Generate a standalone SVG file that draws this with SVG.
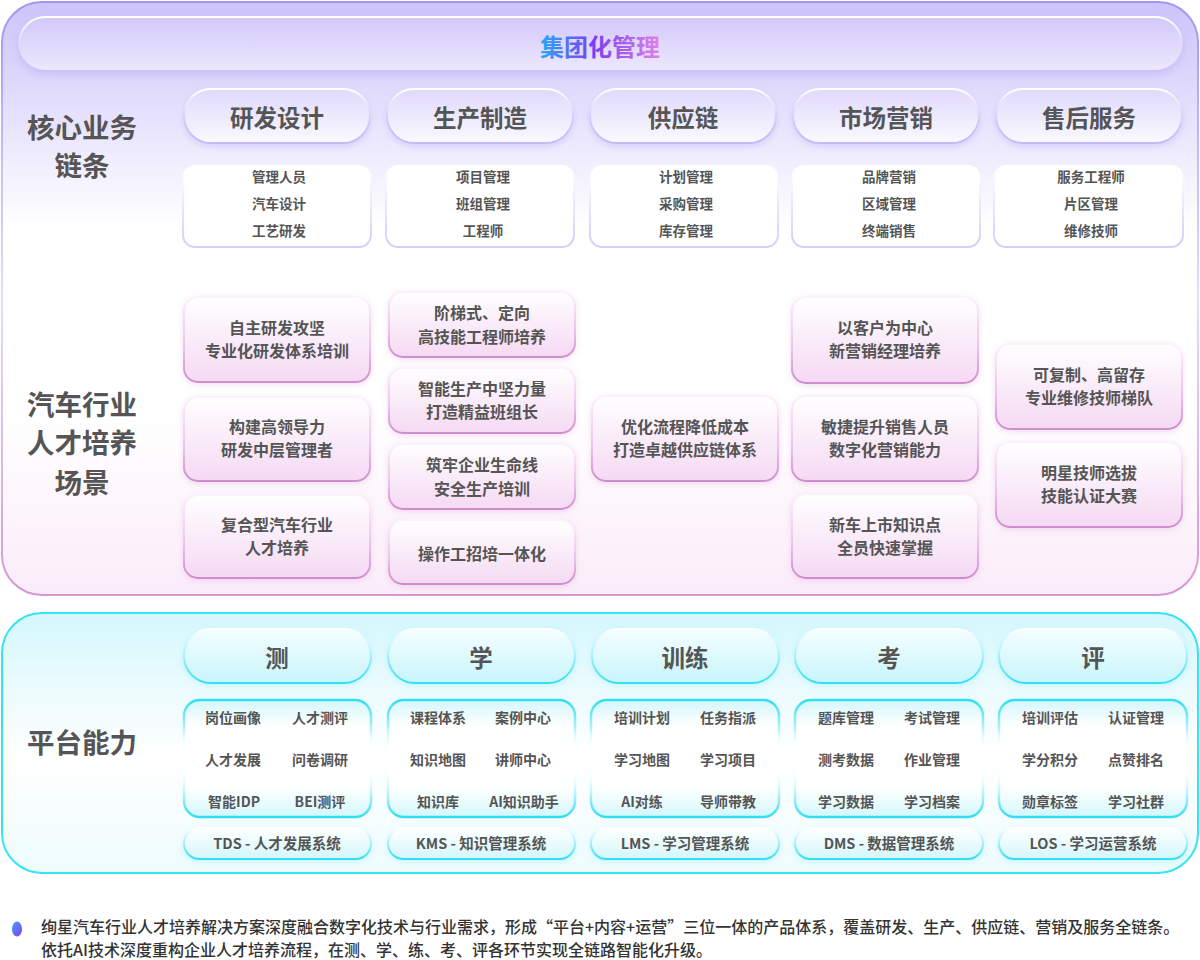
<svg xmlns="http://www.w3.org/2000/svg" width="1200" height="960" viewBox="0 0 1200 960">
<defs>
<linearGradient id="gTopFill" x1="0" y1="0" x2="0" y2="1">
<stop offset="0" stop-color="#cdc3fb"/><stop offset="0.38" stop-color="#ffffff"/><stop offset="0.7" stop-color="#ffffff"/><stop offset="1" stop-color="#fbecf9"/>
</linearGradient>
<linearGradient id="gTopStroke" x1="0" y1="0" x2="0" y2="1">
<stop offset="0" stop-color="#a396f0"/><stop offset="0.5" stop-color="#e4def8"/><stop offset="1" stop-color="#d796d6"/>
</linearGradient>
<linearGradient id="gHead" x1="0" y1="0" x2="0" y2="1">
<stop offset="0" stop-color="#d2c8fa"/><stop offset="1" stop-color="#ece8fd"/>
</linearGradient>
<linearGradient id="gHeadStroke" x1="0" y1="0" x2="0" y2="1">
<stop offset="0" stop-color="#ffffff"/><stop offset="0.5" stop-color="#ffffff" stop-opacity="0.2"/><stop offset="1" stop-color="#ffffff" stop-opacity="0"/>
</linearGradient>
<linearGradient id="gTitle" x1="0" y1="0" x2="1" y2="0">
<stop offset="0" stop-color="#28a8f8"/><stop offset="0.45" stop-color="#7a3ff2"/><stop offset="1" stop-color="#e083e6"/>
</linearGradient>
<linearGradient id="gPPill" x1="0" y1="0" x2="0" y2="1">
<stop offset="0" stop-color="#e0d9fc"/><stop offset="1" stop-color="#faf9ff"/>
</linearGradient>
<linearGradient id="gPPillStroke" x1="0" y1="0" x2="0" y2="1">
<stop offset="0" stop-color="#ffffff"/><stop offset="0.5" stop-color="#d8d0fa"/><stop offset="1" stop-color="#c4b9f6"/>
</linearGradient>
<linearGradient id="gSubStroke" x1="0" y1="0" x2="0" y2="1">
<stop offset="0" stop-color="#ffffff" stop-opacity="0"/><stop offset="0.4" stop-color="#efebfd"/><stop offset="1" stop-color="#d6cdf9"/>
</linearGradient>
<linearGradient id="gCard" x1="0" y1="0" x2="0" y2="1">
<stop offset="0" stop-color="#ffffff"/><stop offset="1" stop-color="#f5d9f3"/>
</linearGradient>
<linearGradient id="gCardStroke" x1="0" y1="0" x2="0" y2="1">
<stop offset="0" stop-color="#fcf2fb"/><stop offset="0.6" stop-color="#ebc3ea"/><stop offset="1" stop-color="#d08ccf"/>
</linearGradient>
<linearGradient id="gBotFill" x1="0" y1="0" x2="0" y2="1">
<stop offset="0" stop-color="#d4f7fd"/><stop offset="0.55" stop-color="#ffffff"/><stop offset="1" stop-color="#eefcfe"/>
</linearGradient>
<linearGradient id="gCPill" x1="0" y1="0" x2="0" y2="1">
<stop offset="0" stop-color="#f4feff"/><stop offset="1" stop-color="#c8f5fc"/>
</linearGradient>
<linearGradient id="gCPillStroke" x1="0" y1="0" x2="0" y2="1">
<stop offset="0" stop-color="#ffffff"/><stop offset="0.5" stop-color="#a5effa"/><stop offset="1" stop-color="#30dff2"/>
</linearGradient>
<linearGradient id="gItem" x1="0" y1="0" x2="0" y2="1">
<stop offset="0" stop-color="#d3f7fc"/><stop offset="0.22" stop-color="#ffffff"/><stop offset="0.75" stop-color="#ffffff"/><stop offset="1" stop-color="#d3f7fc"/>
</linearGradient>
<linearGradient id="gItemStroke" x1="0" y1="0" x2="0" y2="1">
<stop offset="0" stop-color="#2fdff2"/><stop offset="0.25" stop-color="#b8f3fb"/><stop offset="0.4" stop-color="#ffffff" stop-opacity="0.3"/><stop offset="0.6" stop-color="#ffffff" stop-opacity="0.3"/><stop offset="0.8" stop-color="#b8f3fb"/><stop offset="1" stop-color="#2fdff2"/>
</linearGradient>
<linearGradient id="gSys" x1="0" y1="0" x2="0" y2="1">
<stop offset="0" stop-color="#ffffff"/><stop offset="1" stop-color="#d3f7fc"/>
</linearGradient>
<linearGradient id="gBullet" x1="0" y1="0" x2="1" y2="1">
<stop offset="0" stop-color="#3aa0f8"/><stop offset="1" stop-color="#8a3ff0"/>
</linearGradient>
<filter id="shP" x="-10%" y="-30%" width="120%" height="170%">
<feDropShadow dx="0" dy="3" stdDeviation="3" flood-color="#b3a6f3" flood-opacity="0.35"/>
</filter>
<filter id="shH" x="-5%" y="-30%" width="110%" height="180%">
<feDropShadow dx="0" dy="4" stdDeviation="5" flood-color="#a999f2" flood-opacity="0.45"/>
</filter>
<filter id="shK" x="-10%" y="-20%" width="120%" height="150%">
<feDropShadow dx="0" dy="2" stdDeviation="3" flood-color="#d9a6d8" flood-opacity="0.35"/>
</filter>
<filter id="shC" x="-10%" y="-30%" width="120%" height="170%">
<feDropShadow dx="0" dy="2" stdDeviation="3" flood-color="#6ee7f5" flood-opacity="0.3"/>
</filter>
<style>
text{font-family:"Noto Sans CJK SC","Noto Sans",sans-serif;fill:#555;text-anchor:middle;font-weight:700}
.lab{font-size:27.5px}
.pill{font-size:23.5px}
.sub{font-size:13.5px}
.card{font-size:16px}
.itm{font-size:14px}
.sys{font-size:14.5px}
.foot{font-size:16px;text-anchor:start;fill:#333;font-weight:500}
.pp{fill:url(#gPPill);stroke:url(#gPPillStroke);stroke-width:2;filter:url(#shP)}
.sb{fill:#ffffff;stroke:url(#gSubStroke);stroke-width:2}
.cd{fill:url(#gCard);stroke:url(#gCardStroke);stroke-width:2;filter:url(#shK)}
.cp{fill:url(#gCPill);stroke:url(#gCPillStroke);stroke-width:2;filter:url(#shC)}
.it{fill:url(#gItem);stroke:url(#gItemStroke);stroke-width:2.5}
.sy{fill:url(#gSys);stroke:url(#gCPillStroke);stroke-width:2;filter:url(#shC)}
</style>
</defs>
<rect width="1200" height="960" fill="#ffffff"/>

<!-- top panel -->
<g id="panel-top">
<rect x="2" y="2" width="1196" height="593" rx="40" fill="url(#gTopFill)" stroke="url(#gTopStroke)" stroke-width="2"/>
</g>
<g id="header">
<rect x="19" y="17" width="1163" height="53" rx="26.5" fill="url(#gHead)" stroke="url(#gHeadStroke)" stroke-width="2" filter="url(#shH)"/>
<text x="600" y="56" font-size="24" style="fill:url(#gTitle)">集团化管理</text>
</g>

<g id="label-core">
<text class="lab" x="82" y="138">核心业务</text>
<text class="lab" x="82" y="176">链条</text>
</g>

<g id="col-rd">
<rect class="pp" x="184" y="89" width="186" height="54" rx="27"/>
<text class="pill" x="277" y="127">研发设计</text>
<rect class="sb" x="183" y="165" width="188" height="82" rx="12"/>
<text class="sub" x="279" y="182">管理人员</text>
<text class="sub" x="279" y="209">汽车设计</text>
<text class="sub" x="279" y="236">工艺研发</text>
</g>
<g id="col-prod">
<rect class="pp" x="387" y="89" width="186" height="54" rx="27"/>
<text class="pill" x="480" y="127">生产制造</text>
<rect class="sb" x="386" y="165" width="188" height="82" rx="12"/>
<text class="sub" x="483" y="182">项目管理</text>
<text class="sub" x="483" y="209">班组管理</text>
<text class="sub" x="483" y="236">工程师</text>
</g>
<g id="col-supply">
<rect class="pp" x="590" y="89" width="186" height="54" rx="27"/>
<text class="pill" x="683" y="127">供应链</text>
<rect class="sb" x="590" y="165" width="188" height="82" rx="12"/>
<text class="sub" x="686" y="182">计划管理</text>
<text class="sub" x="686" y="209">采购管理</text>
<text class="sub" x="686" y="236">库存管理</text>
</g>
<g id="col-market">
<rect class="pp" x="793" y="89" width="186" height="54" rx="27"/>
<text class="pill" x="886" y="127">市场营销</text>
<rect class="sb" x="792" y="165" width="188" height="82" rx="12"/>
<text class="sub" x="889" y="182">品牌营销</text>
<text class="sub" x="889" y="209">区域管理</text>
<text class="sub" x="889" y="236">终端销售</text>
</g>
<g id="col-service">
<rect class="pp" x="996" y="89" width="186" height="54" rx="27"/>
<text class="pill" x="1089" y="127">售后服务</text>
<rect class="sb" x="994" y="165" width="189" height="82" rx="12"/>
<text class="sub" x="1091" y="182">服务工程师</text>
<text class="sub" x="1091" y="209">片区管理</text>
<text class="sub" x="1091" y="236">维修技师</text>
</g>

<g id="label-scene">
<text class="lab" x="82" y="415">汽车行业</text>
<text class="lab" x="82" y="453">人才培养</text>
<text class="lab" x="82" y="493">场景</text>
</g>

<g id="scene-rd">
<rect class="cd" x="184" y="297" width="186" height="85" rx="14"/>
<text class="card" x="277" y="334">自主研发攻坚</text>
<text class="card" x="277" y="357">专业化研发体系培训</text>
<rect class="cd" x="184" y="397" width="186" height="84" rx="14"/>
<text class="card" x="277" y="433">构建高领导力</text>
<text class="card" x="277" y="456">研发中层管理者</text>
<rect class="cd" x="184" y="495" width="186" height="83" rx="14"/>
<text class="card" x="277" y="531">复合型汽车行业</text>
<text class="card" x="277" y="554">人才培养</text>
</g>
<g id="scene-prod">
<rect class="cd" x="389" y="292" width="186" height="65" rx="14"/>
<text class="card" x="482" y="319">阶梯式、定向</text>
<text class="card" x="482" y="343">高技能工程师培养</text>
<rect class="cd" x="389" y="368" width="186" height="65" rx="14"/>
<text class="card" x="482" y="395">智能生产中坚力量</text>
<text class="card" x="482" y="418">打造精益班组长</text>
<rect class="cd" x="389" y="444" width="186" height="65" rx="14"/>
<text class="card" x="482" y="471">筑牢企业生命线</text>
<text class="card" x="482" y="495">安全生产培训</text>
<rect class="cd" x="389" y="520" width="186" height="64" rx="14"/>
<text class="card" x="482" y="560">操作工招培一体化</text>
</g>
<g id="scene-supply">
<rect class="cd" x="592" y="396" width="186" height="85" rx="14"/>
<text class="card" x="685" y="433">优化流程降低成本</text>
<text class="card" x="685" y="456">打造卓越供应链体系</text>
</g>
<g id="scene-market">
<rect class="cd" x="792" y="297" width="186" height="86" rx="14"/>
<text class="card" x="885" y="334">以客户为中心</text>
<text class="card" x="885" y="357">新营销经理培养</text>
<rect class="cd" x="792" y="396" width="186" height="85" rx="14"/>
<text class="card" x="885" y="433">敏捷提升销售人员</text>
<text class="card" x="885" y="456">数字化营销能力</text>
<rect class="cd" x="792" y="494" width="186" height="84" rx="14"/>
<text class="card" x="885" y="531">新车上市知识点</text>
<text class="card" x="885" y="554">全员快速掌握</text>
</g>
<g id="scene-service">
<rect class="cd" x="996" y="344" width="186" height="85" rx="14"/>
<text class="card" x="1089" y="381">可复制、高留存</text>
<text class="card" x="1089" y="404">专业维修技师梯队</text>
<rect class="cd" x="996" y="442" width="186" height="85" rx="14"/>
<text class="card" x="1089" y="479">明星技师选拔</text>
<text class="card" x="1089" y="502">技能认证大赛</text>
</g>

<!-- bottom panel -->
<g id="panel-bottom">
<rect x="2" y="613" width="1196" height="260" rx="40" fill="url(#gBotFill)" stroke="#35e4f4" stroke-width="2"/>
</g>
<g id="label-platform">
<text class="lab" x="82" y="753">平台能力</text>
</g>

<g id="cap-test">
<rect class="cp" x="184" y="629" width="187" height="54" rx="27"/>
<text class="pill" x="277" y="667">测</text>
<rect class="it" x="184" y="700" width="187" height="117" rx="16"/>
<text class="itm" x="233" y="723">岗位画像</text>
<text class="itm" x="320" y="723">人才测评</text>
<text class="itm" x="233" y="765">人才发展</text>
<text class="itm" x="320" y="765">问卷调研</text>
<text class="itm" x="234" y="807">智能IDP</text>
<text class="itm" x="320" y="807">BEI测评</text>
<rect class="sy" x="184" y="828" width="187" height="31" rx="15.5"/>
<text class="sys" x="277" y="849">TDS - 人才发展系统</text>
</g>
<g id="cap-learn">
<rect class="cp" x="388" y="629" width="187" height="54" rx="27"/>
<text class="pill" x="481" y="667">学</text>
<rect class="it" x="388" y="700" width="187" height="117" rx="16"/>
<text class="itm" x="438" y="723">课程体系</text>
<text class="itm" x="523" y="723">案例中心</text>
<text class="itm" x="438" y="765">知识地图</text>
<text class="itm" x="523" y="765">讲师中心</text>
<text class="itm" x="438" y="807">知识库</text>
<text class="itm" x="524" y="807">AI知识助手</text>
<rect class="sy" x="388" y="828" width="187" height="31" rx="15.5"/>
<text class="sys" x="481" y="849">KMS - 知识管理系统</text>
</g>
<g id="cap-train">
<rect class="cp" x="592" y="629" width="187" height="54" rx="27"/>
<text class="pill" x="685" y="667">训练</text>
<rect class="it" x="591" y="700" width="188" height="117" rx="16"/>
<text class="itm" x="642" y="723">培训计划</text>
<text class="itm" x="728" y="723">任务指派</text>
<text class="itm" x="642" y="765">学习地图</text>
<text class="itm" x="728" y="765">学习项目</text>
<text class="itm" x="642" y="807">AI对练</text>
<text class="itm" x="728" y="807">导师带教</text>
<rect class="sy" x="591" y="828" width="188" height="31" rx="15.5"/>
<text class="sys" x="685" y="849">LMS - 学习管理系统</text>
</g>
<g id="cap-exam">
<rect class="cp" x="795" y="629" width="188" height="54" rx="27"/>
<text class="pill" x="889" y="667">考</text>
<rect class="it" x="795" y="700" width="188" height="117" rx="16"/>
<text class="itm" x="846" y="723">题库管理</text>
<text class="itm" x="932" y="723">考试管理</text>
<text class="itm" x="846" y="765">测考数据</text>
<text class="itm" x="932" y="765">作业管理</text>
<text class="itm" x="846" y="807">学习数据</text>
<text class="itm" x="932" y="807">学习档案</text>
<rect class="sy" x="795" y="828" width="188" height="31" rx="15.5"/>
<text class="sys" x="889" y="849">DMS - 数据管理系统</text>
</g>
<g id="cap-eval">
<rect class="cp" x="999" y="629" width="188" height="54" rx="27"/>
<text class="pill" x="1093" y="667">评</text>
<rect class="it" x="999" y="700" width="188" height="117" rx="16"/>
<text class="itm" x="1050" y="723">培训评估</text>
<text class="itm" x="1136" y="723">认证管理</text>
<text class="itm" x="1050" y="765">学分积分</text>
<text class="itm" x="1136" y="765">点赞排名</text>
<text class="itm" x="1050" y="807">勋章标签</text>
<text class="itm" x="1136" y="807">学习社群</text>
<rect class="sy" x="999" y="828" width="188" height="31" rx="15.5"/>
<text class="sys" x="1093" y="849">LOS - 学习运营系统</text>
</g>

<g id="footer">
<ellipse cx="17" cy="929" rx="5" ry="7.5" fill="url(#gBullet)"/>
<text class="foot" x="41" y="933">绚星汽车行业人才培养解决方案深度融合数字化技术与行业需求，形成“平台+内容+运营”三位一体的产品体系，覆盖研发、生产、供应链、营销及服务全链条。</text>
<text class="foot" x="41" y="956">依托AI技术深度重构企业人才培养流程，在测、学、练、考、评各环节实现全链路智能化升级。</text>
</g>
<g id="connectors"></g>
</svg>
